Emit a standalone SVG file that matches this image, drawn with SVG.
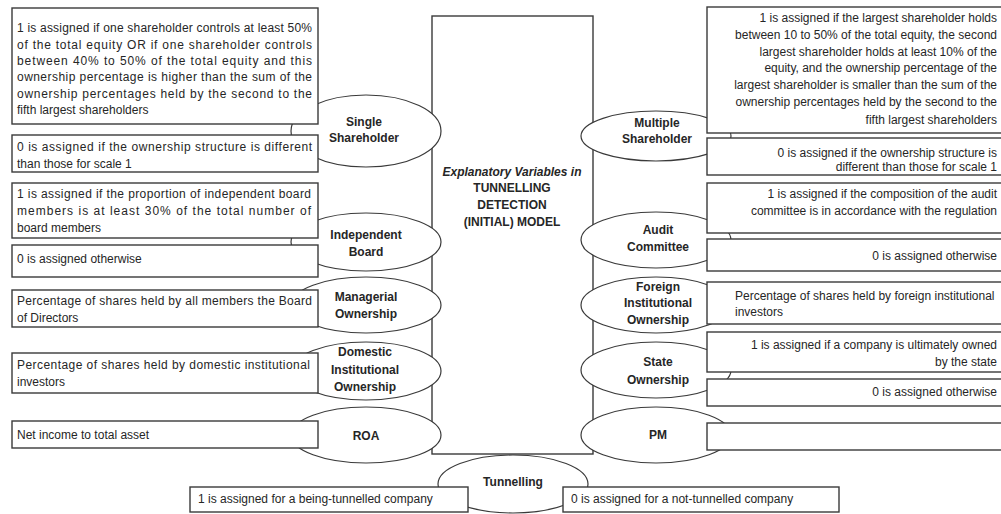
<svg xmlns="http://www.w3.org/2000/svg" width="1001" height="514" viewBox="0 0 1001 514">
<style>
.t{font-family:"Liberation Sans",Arial,sans-serif;font-size:12px;fill:#262626}
.b{font-weight:bold;text-anchor:middle}
.r{text-anchor:end}
.box{fill:#fff;stroke:#3a3a3a;stroke-width:1.4}
.ell{fill:#fff;stroke:#3a3a3a;stroke-width:1.2}
</style>
<rect width="1001" height="514" fill="#fff"/>
<g id="model">
<rect class="box" x="432" y="16" width="161" height="438"/>
<text class="t b" x="512" y="176" font-style="italic">Explanatory Variables in</text>
<text class="t b" x="512" y="192">TUNNELLING</text>
<text class="t b" x="512" y="209">DETECTION</text>
<text class="t b" x="512" y="226">(INITIAL) MODEL</text>
</g>
<g id="connectors"></g>
<g id="single-shareholder">
<ellipse class="ell" cx="366" cy="131" rx="75" ry="36"/>
<text class="t b" x="364" y="126">Single</text>
<text class="t b" x="364" y="142">Shareholder</text>
<rect class="box" x="12" y="8" width="306" height="116"/>
<text class="t" x="17" y="32" textLength="295" lengthAdjust="spacing">1 is assigned if one shareholder controls at least 50%</text>
<text class="t" x="17" y="48.5" textLength="295" lengthAdjust="spacing">of the total equity OR if one shareholder controls</text>
<text class="t" x="17" y="65" textLength="295" lengthAdjust="spacing">between 40% to 50% of the total equity and this</text>
<text class="t" x="17" y="81" textLength="295" lengthAdjust="spacing">ownership percentage is higher than the sum of the</text>
<text class="t" x="17" y="97.5" textLength="295" lengthAdjust="spacing">ownership percentages held by the second to the</text>
<text class="t" x="17" y="114">fifth largest shareholders</text>
<rect class="box" x="12" y="135" width="306" height="37"/>
<text class="t" x="17" y="151" textLength="295" lengthAdjust="spacing">0 is assigned if the ownership structure is different</text>
<text class="t" x="17" y="168">than those for scale 1</text>
</g>
<g id="independent-board">
<ellipse class="ell" cx="366" cy="242" rx="75" ry="29"/>
<text class="t b" x="366" y="239">Independent</text>
<text class="t b" x="366" y="256">Board</text>
<rect class="box" x="12" y="183" width="306" height="55"/>
<text class="t" x="17" y="198" textLength="294" lengthAdjust="spacing">1 is assigned if the proportion of independent board</text>
<text class="t" x="17" y="215" textLength="294" lengthAdjust="spacing">members is at least 30% of the total number of</text>
<text class="t" x="17" y="232">board members</text>
<rect class="box" x="12" y="245" width="306" height="32"/>
<text class="t" x="17" y="263">0 is assigned otherwise</text>
</g>
<g id="managerial-ownership">
<ellipse class="ell" cx="366" cy="305" rx="75" ry="28"/>
<text class="t b" x="366" y="301">Managerial</text>
<text class="t b" x="366" y="318">Ownership</text>
<rect class="box" x="12" y="290" width="306" height="37"/>
<text class="t" x="17" y="305" textLength="295" lengthAdjust="spacing">Percentage of shares held by all members the Board</text>
<text class="t" x="17" y="322">of Directors</text>
</g>
<g id="domestic-institutional-ownership">
<ellipse class="ell" cx="366" cy="371" rx="75" ry="29"/>
<text class="t b" x="365" y="356">Domestic</text>
<text class="t b" x="365" y="374">Institutional</text>
<text class="t b" x="365" y="391">Ownership</text>
<rect class="box" x="12" y="353" width="306" height="40"/>
<text class="t" x="17" y="369" textLength="293" lengthAdjust="spacing">Percentage of shares held by domestic institutional</text>
<text class="t" x="17" y="386">investors</text>
</g>
<g id="roa">
<ellipse class="ell" cx="366" cy="435" rx="75" ry="28"/>
<text class="t b" x="366" y="440">ROA</text>
<rect class="box" x="12" y="421" width="306" height="27"/>
<text class="t" x="17" y="439">Net income to total asset</text>
</g>
<g id="multiple-shareholder">
<ellipse class="ell" cx="656" cy="136" rx="75" ry="25"/>
<text class="t b" x="657" y="127">Multiple</text>
<text class="t b" x="657" y="143">Shareholder</text>
<rect class="box" x="707" y="7" width="310" height="126"/>
<text class="t r" x="997" y="22">1 is assigned if the largest shareholder holds</text>
<text class="t r" x="997" y="39">between 10 to 50% of the total equity, the second</text>
<text class="t r" x="997" y="56">largest shareholder holds at least 10% of the</text>
<text class="t r" x="997" y="72">equity, and the ownership percentage of the</text>
<text class="t r" x="997" y="89">largest shareholder is smaller than the sum of the</text>
<text class="t r" x="997" y="106">ownership percentages held by the second to the</text>
<text class="t r" x="997" y="124">fifth largest shareholders</text>
<rect class="box" x="707" y="138" width="310" height="37"/>
<text class="t r" x="997" y="157">0 is assigned if the ownership structure is</text>
<text class="t r" x="997" y="171">different than those for scale 1</text>
</g>
<g id="audit-committee">
<ellipse class="ell" cx="656" cy="240" rx="75" ry="28"/>
<text class="t b" x="658" y="234">Audit</text>
<text class="t b" x="658" y="251">Committee</text>
<rect class="box" x="707" y="183" width="310" height="50"/>
<text class="t r" x="997" y="198">1 is assigned if the composition of the audit</text>
<text class="t r" x="997" y="215">committee is in accordance with the regulation</text>
<rect class="box" x="707" y="239" width="310" height="32"/>
<text class="t r" x="997" y="260">0 is assigned otherwise</text>
</g>
<g id="foreign-institutional-ownership">
<ellipse class="ell" cx="656" cy="305" rx="75" ry="28"/>
<text class="t b" x="658" y="291">Foreign</text>
<text class="t b" x="658" y="307">Institutional</text>
<text class="t b" x="658" y="324">Ownership</text>
<rect class="box" x="707" y="282" width="310" height="42"/>
<text class="t" x="735" y="300">Percentage of shares held by foreign institutional</text>
<text class="t" x="735" y="316">investors</text>
</g>
<g id="state-ownership">
<ellipse class="ell" cx="656" cy="370" rx="75" ry="28"/>
<text class="t b" x="658" y="366">State</text>
<text class="t b" x="658" y="384">Ownership</text>
<rect class="box" x="707" y="332" width="310" height="40"/>
<text class="t r" x="997" y="349">1 is assigned if a company is ultimately owned</text>
<text class="t r" x="997" y="366">by the state</text>
<rect class="box" x="707" y="379" width="310" height="27"/>
<text class="t r" x="997" y="396">0 is assigned otherwise</text>
</g>
<g id="pm">
<ellipse class="ell" cx="656" cy="435" rx="75" ry="28"/>
<text class="t b" x="658" y="439">PM</text>
<rect class="box" x="707" y="423" width="310" height="27"/>
</g>
<g id="tunnelling">
<ellipse class="ell" cx="513" cy="484" rx="75" ry="29"/>
<text class="t b" x="513" y="486">Tunnelling</text>
<rect class="box" x="190" y="487" width="278" height="25"/>
<text class="t" x="198" y="503">1 is assigned for a being-tunnelled company</text>
<rect class="box" x="563" y="487" width="276" height="25"/>
<text class="t" x="571" y="503">0 is assigned for a not-tunnelled company</text>
</g>
</svg>
